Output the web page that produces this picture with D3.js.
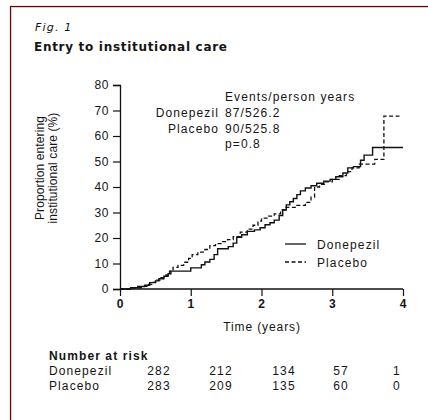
<!DOCTYPE html>
<html><head><meta charset="utf-8">
<script src="https://cdn.jsdelivr.net/npm/d3@7/dist/d3.min.js"></script>
<style>
html,body{margin:0;padding:0;background:#fff;}
svg{display:block;}
</style></head>
<body>
<script>
// ---- data ----
const figLabel = "Fig. 1";
const title = "Entry to institutional care";
const seriesNames = ["Donepezil", "Placebo"];
// Kaplan-Meier steps: [time (years), cumulative % entering institutional care]
const donepezilSteps = [
  [0,0],[0.15,0.5],[0.25,1.0],[0.35,1.5],[0.42,2.5],[0.5,3.2],[0.55,4.0],[0.62,5.0],
  [0.68,6.0],[0.72,7.0],[1.0,8.3],[1.15,9.5],[1.2,10.6],[1.27,11.6],[1.33,13.5],
  [1.38,15.8],[1.53,16.6],[1.6,18.0],[1.65,20.3],[1.72,21.3],[1.8,22.6],[1.9,23.2],
  [1.98,24.0],[2.05,25.2],[2.12,26.0],[2.18,27.0],[2.25,28.8],[2.3,31.0],[2.35,33.0],
  [2.4,34.2],[2.45,35.5],[2.5,37.0],[2.55,38.5],[2.62,39.6],[2.7,40.5],[2.78,41.5],
  [2.88,42.3],[2.97,43.0],[3.05,44.0],[3.15,45.5],[3.22,47.5],[3.3,48.0],[3.4,50.5],
  [3.45,52.5],[3.57,55.5],[4.0,55.5]
];
const placeboSteps = [
  [0,0],[0.18,0.5],[0.3,1.0],[0.38,1.8],[0.45,2.6],[0.52,3.5],[0.58,4.5],[0.65,5.5],
  [0.7,7.0],[0.75,8.5],[0.82,9.3],[0.9,10.5],[0.97,12.0],[1.02,13.5],[1.1,14.5],
  [1.2,15.5],[1.27,17.0],[1.35,17.8],[1.45,18.6],[1.52,19.4],[1.6,20.5],[1.7,22.3],
  [1.8,23.5],[1.88,25.0],[1.95,26.6],[2.0,27.8],[2.1,28.6],[2.18,29.5],[2.27,31.0],
  [2.33,32.0],[2.5,32.8],[2.62,34.0],[2.7,36.0],[2.75,40.0],[2.82,41.0],[2.9,42.0],
  [3.0,43.0],[3.1,44.5],[3.2,46.0],[3.28,47.5],[3.38,49.0],[3.6,50.8],[3.73,67.8],[3.95,67.8]
];
const xTicks = [0,1,2,3,4];
const yTicks = [0,10,20,30,40,50,60,70,80];
const xLabel = "Time (years)";
const yLabelLines = ["Proportion entering", "institutional care (%)"];
const statsHeader = "Events/person years";
const statsRows = [["Donepezil","87/526.2"],["Placebo","90/525.8"]];
const pValue = "p=0.8";
const riskTitle = "Number at risk";
const riskDonepezil = [282,212,134,57,1];
const riskPlacebo = [283,209,135,60,0];

// ---- drawing ----
const W = 428, H = 420;
const svg = d3.select("body").append("svg").attr("width", W).attr("height", H);
const txt = "#151515";
const sans = "'Liberation Sans', Arial, sans-serif";
const verd = "'DejaVu Sans', Verdana, sans-serif";

// frame
svg.append("rect").attr("x",10.5).attr("y",6.5).attr("width",W).attr("height",H)
  .attr("fill","none").attr("stroke","#4a1414").attr("stroke-width",1.2);
svg.append("rect").attr("x",11.5).attr("y",7.5).attr("width",W).attr("height",H)
  .attr("fill","none").attr("stroke","#f0c4c4").attr("stroke-width",1);

svg.append("text").attr("x",35).attr("y",31).attr("font-family",verd)
  .attr("font-style","italic").attr("font-size",11).attr("letter-spacing",1.2)
  .attr("fill",txt).text(figLabel);
svg.append("text").attr("x",34).attr("y",51).attr("font-family",verd)
  .attr("font-weight","bold").attr("font-size",12).attr("letter-spacing",0.7)
  .attr("fill",txt).text(title);

const x = d3.scaleLinear().domain([0,4]).range([120,403]);
const y = d3.scaleLinear().domain([0,80]).range([289,85]);

const xAxis = svg.append("g").attr("transform","translate(0,289)")
  .call(d3.axisBottom(x).tickValues(xTicks).tickSize(7).tickPadding(3).tickFormat(d3.format("d")));
const yAxis = svg.append("g").attr("transform","translate(120,0)")
  .call(d3.axisLeft(y).tickValues(yTicks).tickSize(7).tickPadding(4));
[xAxis,yAxis].forEach(g=>{
  g.select(".domain").attr("stroke","#111").attr("stroke-width",1.3);
  g.selectAll(".tick line").attr("stroke","#111").attr("stroke-width",1.2);
  g.selectAll("text").attr("font-family",sans).attr("font-size",12).attr("fill",txt)
    .attr("letter-spacing",0.6);
});
xAxis.selectAll("text").attr("font-weight","bold");
xAxis.select(".domain").attr("d","M120,0H403");

svg.append("text").attr("x",262).attr("y",331).attr("text-anchor","middle")
  .attr("font-family",sans).attr("font-size",12).attr("letter-spacing",0.9).attr("fill",txt).text(xLabel);

const yl = svg.append("text").attr("transform","translate(44,168) rotate(-90)")
  .attr("text-anchor","middle").attr("font-family",sans).attr("font-size",12)
  .attr("letter-spacing",0.1).attr("fill",txt);
yLabelLines.forEach((l,i)=>yl.append("tspan").attr("x",0).attr("dy",i?13:0).text(l));

// curves
const line = d3.line().x(d=>x(d[0])).y(d=>y(d[1])).curve(d3.curveStepAfter);
svg.append("path").datum(donepezilSteps).attr("d",line).attr("fill","none")
  .attr("stroke","#111").attr("stroke-width",1.4);
svg.append("path").datum(placeboSteps).attr("d",line).attr("fill","none")
  .attr("stroke","#111").attr("stroke-width",1.3).attr("stroke-dasharray","4,2.5");

// stats annotation
const ann = {font:sans, size:12, ls:1.1};
function t(xp,yp,s,anchor,weight){
  return svg.append("text").attr("x",xp).attr("y",yp).attr("text-anchor",anchor||"start")
    .attr("font-family",ann.font).attr("font-size",ann.size).attr("letter-spacing",ann.ls)
    .attr("font-weight",weight||"normal").attr("fill",txt).text(s);
}
t(225,101,statsHeader);
statsRows.forEach((r,i)=>{ t(219,117+i*15.5,r[0],"end"); t(225,117+i*15.5,r[1]); });
t(225,148,pValue);

// legend
svg.append("line").attr("x1",285).attr("x2",306).attr("y1",244).attr("y2",244)
  .attr("stroke","#111").attr("stroke-width",1.3);
svg.append("line").attr("x1",285).attr("x2",306).attr("y1",262).attr("y2",262)
  .attr("stroke","#111").attr("stroke-width",1.3).attr("stroke-dasharray","4,2.5");
t(317,249,seriesNames[0]);
t(317,267,seriesNames[1]);

// number at risk
t(49,360,riskTitle,"start","bold");
const riskPos = [159,221,284,341,397];
t(49,375,seriesNames[0]);
t(49,390,seriesNames[1]);
riskDonepezil.forEach((v,i)=>t(riskPos[i],375,v,"middle"));
riskPlacebo.forEach((v,i)=>t(riskPos[i],390,v,"middle"));
</script>
</body></html>
